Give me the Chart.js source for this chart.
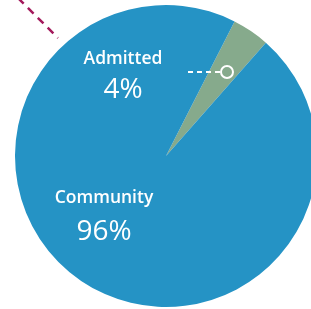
<!DOCTYPE html>
<html>
<head>
<meta charset="utf-8">
<script src="https://cdn.jsdelivr.net/npm/chart.js@4"></script>
<style>
  html, body { margin: 0; padding: 0; background: #fff; overflow: hidden; }
  #wrap { width: 311px; height: 309px; position: relative; }
</style>
</head>
<body>
<div id="wrap"><canvas id="chart" width="311" height="309"></canvas></div>
<script>
const labels = ["Admitted", "Community"];
const values = [4, 96];
const sliceColors = ["#86aa8c", "#2593c5"];

// text labels drawn on top of the pie
const overlay = {
  id: "overlay",
  afterDraw(chart) {
    const ctx = chart.ctx;
    ctx.save();

    // pink dashed line, top left
    ctx.strokeStyle = "#a3195b";
    ctx.lineWidth = 2.5;
    ctx.setLineDash([8, 6]);
    ctx.beginPath();
    ctx.moveTo(18, -2);
    ctx.lineTo(58, 38);
    ctx.stroke();

    // leader line to the small slice
    ctx.strokeStyle = "#fff";
    ctx.lineWidth = 2;
    ctx.setLineDash([5, 4]);
    ctx.beginPath();
    ctx.moveTo(188, 72);
    ctx.lineTo(220, 72);
    ctx.stroke();
    ctx.setLineDash([]);
    ctx.beginPath();
    ctx.arc(227, 72, 6, 0, Math.PI * 2);
    ctx.stroke();

    ctx.fillStyle = "#fff";
    ctx.textAlign = "center";
    ctx.textBaseline = "alphabetic";
    ctx.font = "600 17.5px 'Open Sans'";
    ctx.fillText(labels[0], 123, 64);
    ctx.font = "400 28px 'Open Sans'";
    ctx.fillText(values[0] + "%", 123, 98);
    ctx.font = "600 17.5px 'Open Sans'";
    ctx.fillText(labels[1], 104, 203);
    ctx.font = "400 28px 'Open Sans'";
    ctx.fillText(values[1] + "%", 104, 240);
    ctx.restore();
  }
};

new Chart(document.getElementById("chart"), {
  type: "pie",
  data: {
    labels: labels,
    datasets: [{
      data: values,
      backgroundColor: sliceColors,
      borderWidth: 0,
      radius: 151
    }]
  },
  options: {
    responsive: false,
    animation: false,
    rotation: 27,
    layout: { padding: { left: 21, top: 3, bottom: 0, right: 0 } },
    plugins: {
      legend: { display: false },
      tooltip: { enabled: false }
    }
  },
  plugins: [overlay]
});
</script>
</body>
</html>
